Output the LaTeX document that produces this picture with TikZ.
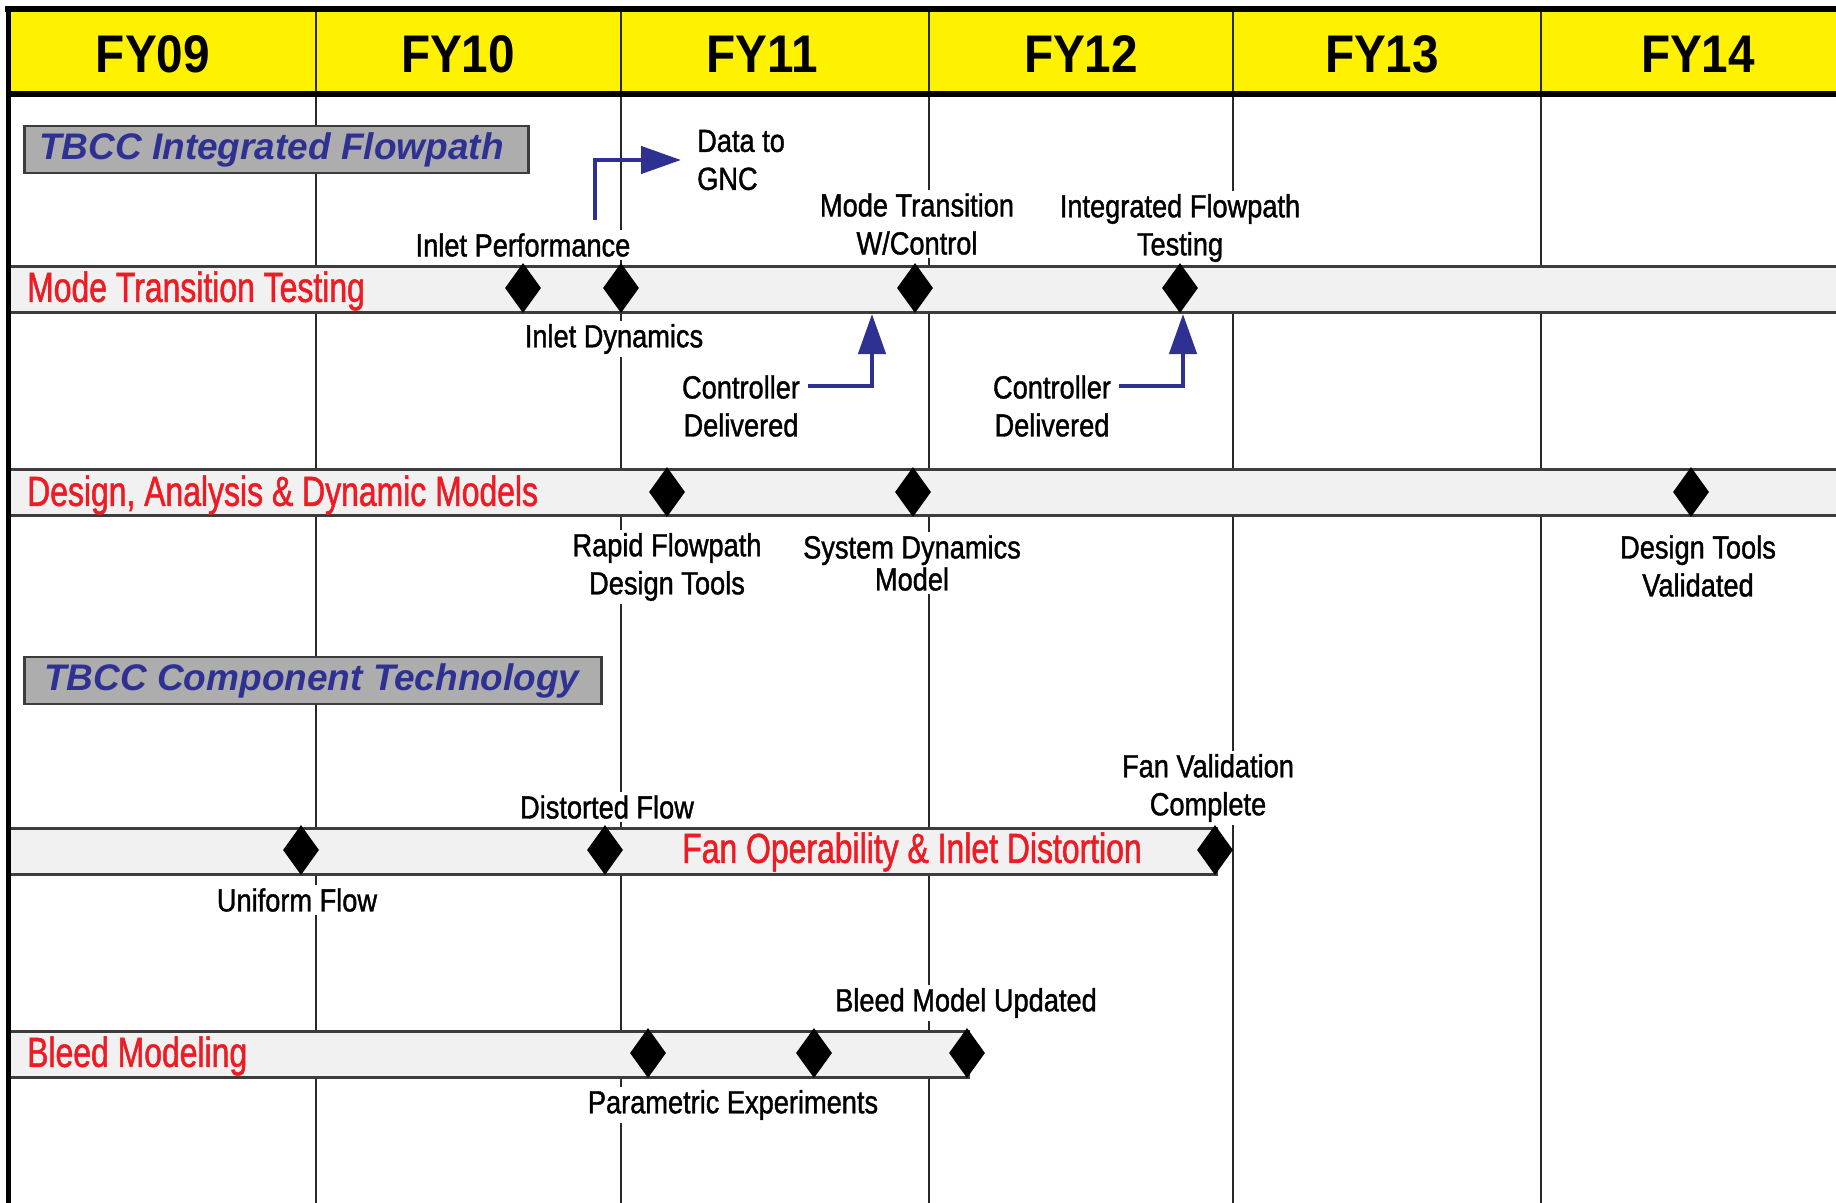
\documentclass[tikz,border=0pt]{standalone}
\usepackage{fontspec}
\setmainfont{Liberation Sans}
\newfontfamily\condfont{Liberation Sans}[FakeStretch=0.85,FakeBold=1.2]
\newfontfamily\redfont{Liberation Sans}[FakeStretch=0.76,FakeBold=1.2]
\newfontfamily\yearfont{Liberation Sans}[FakeStretch=0.9]
\usetikzlibrary{shapes.geometric,arrows.meta}
\definecolor{hdryellow}{RGB}{255,242,0}
\definecolor{barfill}{RGB}{241,241,241}
\definecolor{barline}{RGB}{60,60,60}
\definecolor{boxgray}{RGB}{173,173,173}
\definecolor{navy}{RGB}{46,49,146}
\definecolor{msred}{RGB}{237,28,36}
\definecolor{gridc}{RGB}{40,40,40}
\begin{document}
\begin{tikzpicture}[x=1pt,y=-1pt,
  yr/.style={font=\yearfont\bfseries\fontsize{53}{60}\selectfont, inner sep=0pt},
  lbl/.style={font=\condfont\fontsize{32}{38}\selectfont, fill=white, inner sep=3pt, align=center},
  redlbl/.style={font=\redfont\fontsize{42}{46}\selectfont, text=msred, inner sep=0pt},
  barbox/.style={draw=barline, line width=2.5pt, fill=barfill, minimum height=46pt, inner sep=0pt, anchor=north west},
  graybox/.style={draw=barline, line width=2.5pt, fill=boxgray, minimum height=47pt, inner sep=0pt, anchor=west},
  boxtext/.style={font=\bfseries\itshape\fontsize{37}{44}\selectfont, text=navy, inner sep=0pt, anchor=west},
  ms/.style={diamond, fill=black, minimum width=36pt, minimum height=50pt, inner sep=0pt},
  grid/.style={draw=gridc, line width=2pt},
  barrow/.style={draw=navy, line width=4.5pt, -{Triangle[length=40pt,width=27pt]}}
]
\useasboundingbox (0,0) rectangle (1836,1202);
\fill[white] (0,0) rectangle (1836,1202);

% header
\fill[hdryellow] (8,9) rectangle (1845,94);

% grid lines
\foreach \x in {316,621,929,1233,1541} \draw[grid] (\x,9) -- (\x,1205);

% year labels
\node[yr] (fy09) at (153,54) {FY09};
\node[yr] (fy10) at (458,54) {FY10};
\node[yr] (fy11) at (762,54) {FY11};
\node[yr] (fy12) at (1081,54) {FY12};
\node[yr] (fy13) at (1382,54) {FY13};
\node[yr] (fy14) at (1698,54) {FY14};

% bars
\node[barbox, minimum width=1840pt] (bar1) at (8,265) {};
\node[barbox, minimum width=1840pt] (bar2) at (8,468) {};
\node[barbox, minimum width=1207pt] (bar3) at (8,827) {};
\node[barbox, minimum width=959pt] (bar4) at (8,1030) {};

% frame
\draw[line width=6pt] (5,9) -- (1845,9);
\draw[line width=5pt] (8,6) -- (8,1205);
\draw[line width=6pt] (8,94) -- (1845,94);

% section boxes
\node[graybox, minimum width=504pt] (sec1) at (23,149.5) {};
\node[boxtext] (sec1t) at (39,149.5) {TBCC Integrated Flowpath};
\node[graybox, minimum width=577pt] (sec2) at (23,680.5) {};
\node[boxtext] (sec2t) at (44,680.5) {TBCC Component Technology};

% bar titles
\node[redlbl, anchor=west] (t1) at (27,291) {Mode Transition Testing};
\node[redlbl, anchor=west] (t2) at (27,495) {Design, Analysis \& Dynamic Models};
\node[redlbl] (t3) at (912,852) {Fan Operability \& Inlet Distortion};
\node[redlbl, anchor=west] (t4) at (27,1056) {Bleed Modeling};

% milestone labels
\node[lbl] (ip) at (523,245) {Inlet Performance};
\node[lbl] (idyn) at (614,339) {Inlet Dynamics};
\node[lbl, align=left, anchor=west] (gnc) at (694,160) {Data to\\GNC};
\node[lbl] (mtwc) at (917,224) {Mode Transition\\W/Control};
\node[lbl] (ift) at (1180,228) {Integrated Flowpath\\Testing};
\node[lbl] (ctrl1) at (741,406) {Controller\\Delivered};
\node[lbl] (ctrl2) at (1052,406) {Controller\\Delivered};
\node[lbl] (rfdt) at (667,567) {Rapid Flowpath\\Design Tools};
\node[lbl, font=\condfont\fontsize{32}{32}\selectfont] (sdm) at (912,563) {System Dynamics\\Model};
\node[lbl] (dtv) at (1698,566) {Design Tools\\Validated};
\node[lbl] (fvc) at (1208,788) {Fan Validation\\Complete};
\node[lbl] (df) at (607,807) {Distorted Flow};
\node[lbl] (uf) at (297,900) {Uniform Flow};
\node[lbl] (bmu) at (966,1003) {Bleed Model Updated};
\node[lbl] (pe) at (733,1105) {Parametric Experiments};

% milestones
\node[ms] (m1a) at (523,288) {};
\node[ms] (m1b) at (621,288) {};
\node[ms] (m1c) at (915,288) {};
\node[ms] (m1d) at (1180,288) {};
\node[ms] (m2a) at (667,492) {};
\node[ms] (m2b) at (913,492) {};
\node[ms] (m2c) at (1691,492) {};
\node[ms] (m3a) at (301,850) {};
\node[ms] (m3b) at (605,850) {};
\node[ms] (m3c) at (1215,850) {};
\node[ms] (m4a) at (648,1053) {};
\node[ms] (m4b) at (814,1053) {};
\node[ms] (m4c) at (967,1053) {};

% blue arrows
\coordinate (dgs) at (595,220);
\draw[barrow, shorten >=13pt] (dgs) |- (gnc.west);
\coordinate (c1s) at (808,386);
\coordinate (c1t) at (872,314);
\draw[barrow] (c1s) -| (c1t);
\coordinate (c2s) at (1119,386);
\coordinate (c2t) at (1183,314);
\draw[barrow] (c2s) -| (c2t);
\end{tikzpicture}
\end{document}
